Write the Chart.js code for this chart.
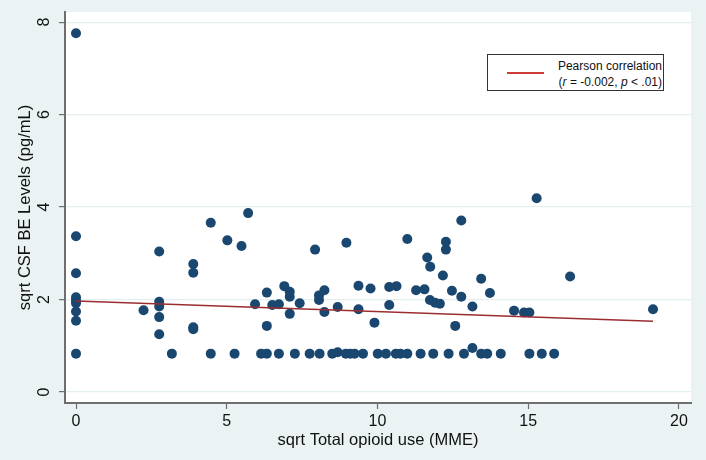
<!doctype html>
<html lang="en">
<head>
<meta charset="utf-8">
<title>sqrt CSF BE vs sqrt opioid use</title>
<style>
  * { box-sizing: border-box; margin: 0; padding: 0; }
  body { background: #eaf2f3; font-family: "Liberation Sans", Arial, sans-serif; }
  .wrap { position: relative; width: 706px; height: 460px; }
  .legend { position: absolute; left: 487px; top: 54px; width: 177px; height: 37px; background: #fff;
    border: 1px solid #333; font-size: 12px; color: #111; }
  .legend .ln { position: absolute; left: 19px; top: 17px; width: 37px; border-top: 2px solid #cc3b36; }
  .legend .t { position: absolute; right: 1px; text-align: right; line-height: 14px; white-space: nowrap; }
  .legend .t1 { top: 4px; }
  .legend .t2 { top: 20px; }
</style>
</head>
<body>
<div class="wrap">
  <canvas id="c"></canvas>
  <div class="legend">
    <div class="ln"></div>
    <div class="t t1">Pearson correlation</div>
    <div class="t t2">(<i>r</i> = -0.002, <i>p</i> &lt; .01)</div>
  </div>
</div>
<script src="https://cdn.jsdelivr.net/npm/chart.js@4.4.1/dist/chart.umd.min.js"></script>
<script>
  // sqrt total opioid use (MME) and sqrt CSF BE level
  const opioidUse = [
    0, 0, 0, 0, 0, 0, 0, 0, 0,
    2.24, 2.76, 2.76, 2.76, 2.76, 2.76, 3.18,
    3.89, 3.89, 3.89, 3.89, 4.47, 4.47, 5.02, 5.26, 5.49, 5.71, 5.94, 6.14,
    6.33, 6.33, 6.33, 6.51, 6.73, 6.73, 6.91, 7.09, 7.09, 7.09, 7.26, 7.42,
    7.75, 7.93, 8.06, 8.06, 8.08, 8.24, 8.24, 8.50, 8.68, 8.68, 8.95, 8.97,
    9.10, 9.24, 9.37, 9.37, 9.52, 9.77, 9.90, 10.01, 10.28, 10.39, 10.39,
    10.61, 10.63, 10.76, 10.99, 10.99, 11.28, 11.43, 11.56, 11.65, 11.75,
    11.74, 11.85, 11.91, 12.07, 12.17, 12.27, 12.27, 12.36, 12.47, 12.58,
    12.78, 12.78, 12.87, 13.15, 13.15, 13.44, 13.44, 13.64, 13.73, 14.09,
    14.53, 14.86, 15.04, 15.04, 15.28, 15.45, 15.86, 16.39, 19.14
  ];
  const csfBE = [
    7.76, 3.37, 2.57, 2.05, 1.98, 1.92, 1.74, 1.54, 0.83,
    1.77, 3.04, 1.95, 1.85, 1.62, 1.25, 0.83,
    2.77, 2.58, 1.40, 1.36, 3.66, 0.83, 3.28, 0.83, 3.16, 3.87, 1.90, 0.83,
    2.15, 1.43, 0.83, 1.88, 1.90, 0.83, 2.29, 2.17, 2.06, 1.69, 0.83, 1.92,
    0.83, 3.08, 2.09, 1.99, 0.83, 2.20, 1.73, 0.83, 1.84, 0.86, 0.83, 3.23,
    0.83, 0.83, 2.30, 1.79, 0.83, 2.24, 1.50, 0.83, 0.83, 2.27, 1.88,
    0.83, 2.29, 0.83, 3.31, 0.83, 2.20, 0.83, 2.22, 2.91, 2.71,
    1.99, 0.83, 1.93, 1.91, 2.52, 3.25, 3.08, 0.83, 2.19, 1.43,
    3.71, 2.06, 0.83, 1.85, 0.95, 2.45, 0.83, 0.83, 2.14, 0.83,
    1.76, 1.72, 1.72, 0.83, 4.19, 0.83, 0.83, 2.50, 1.79
  ];
  // fitted line end points
  const fitX = [0, 19.14];
  const fitY = [1.97, 1.53];
  const xTicks = [0, 5, 10, 15, 20];
  const yTicks = [0, 2, 4, 6, 8];

  const navy = "#1a476f", maroon = "#9b2d30", axisGray = "#6e6e6e", gridCol = "#e3eef0";
  Chart.defaults.font.family = '"Liberation Sans", Arial, sans-serif';
  Chart.defaults.color = "#111";

  const plotBg = {
    id: "plotBg",
    beforeDraw(chart) {
      const { ctx, chartArea: a } = chart;
      ctx.save();
      ctx.fillStyle = "#fff";
      ctx.fillRect(a.left, a.top, a.right - a.left, a.bottom - a.top);
      ctx.restore();
    }
  };

  new Chart(document.getElementById("c"), {
    type: "scatter",
    data: { datasets: [
      { type: "line", data: fitX.map((x, i) => ({ x, y: fitY[i] })), borderColor: maroon, borderWidth: 1.5,
        pointRadius: 0, fill: false, order: 0 },
      { data: opioidUse.map((x, i) => ({ x, y: csfBE[i] })), backgroundColor: navy, borderColor: navy,
        pointRadius: 5, borderWidth: 0, order: 1 } ] },
    options: {
      responsive: true, maintainAspectRatio: false, animation: false,
      layout: { padding: { top: 12, right: 15, left: 0, bottom: 0 } },
      plugins: { legend: { display: false }, tooltip: { enabled: false } },
      scales: {
        x: { type: "linear", min: -0.365, max: 20.4,
          afterBuildTicks: s => { s.ticks = xTicks.map(v => ({ value: v })); },
          afterFit: s => { s.height = 57; s.paddingLeft = 0; s.paddingRight = 0; },
          grid: { drawOnChartArea: false, tickLength: 6, tickColor: axisGray, tickWidth: 1.2 },
          border: { color: axisGray, width: 2 },
          ticks: { font: { size: 16 }, padding: 3, color: "#111", maxRotation: 0 },
          title: { display: true, text: "sqrt Total opioid use (MME)", font: { size: 16.5 }, padding: { bottom: 10 }, color: "#111" } },
        y: { type: "linear", min: -0.238, max: 8.22,
          afterBuildTicks: s => { s.ticks = yTicks.map(v => ({ value: v })); },
          afterFit: s => { s.width = 65; s.paddingTop = 0; s.paddingBottom = 0; },
          grid: { color: gridCol, lineWidth: 1.2, tickLength: 6, tickColor: axisGray, tickWidth: 1.2 },
          border: { color: axisGray, width: 2 },
          ticks: { font: { size: 16 }, padding: 10, color: "#111", minRotation: 90, maxRotation: 90, crossAlign: "center" },
          title: { display: true, text: "sqrt CSF BE Levels (pg/mL)", font: { size: 16.5 }, padding: { top: 16 }, color: "#111" } }
      }
    },
    plugins: [plotBg]
  });
</script>
</body>
</html>
